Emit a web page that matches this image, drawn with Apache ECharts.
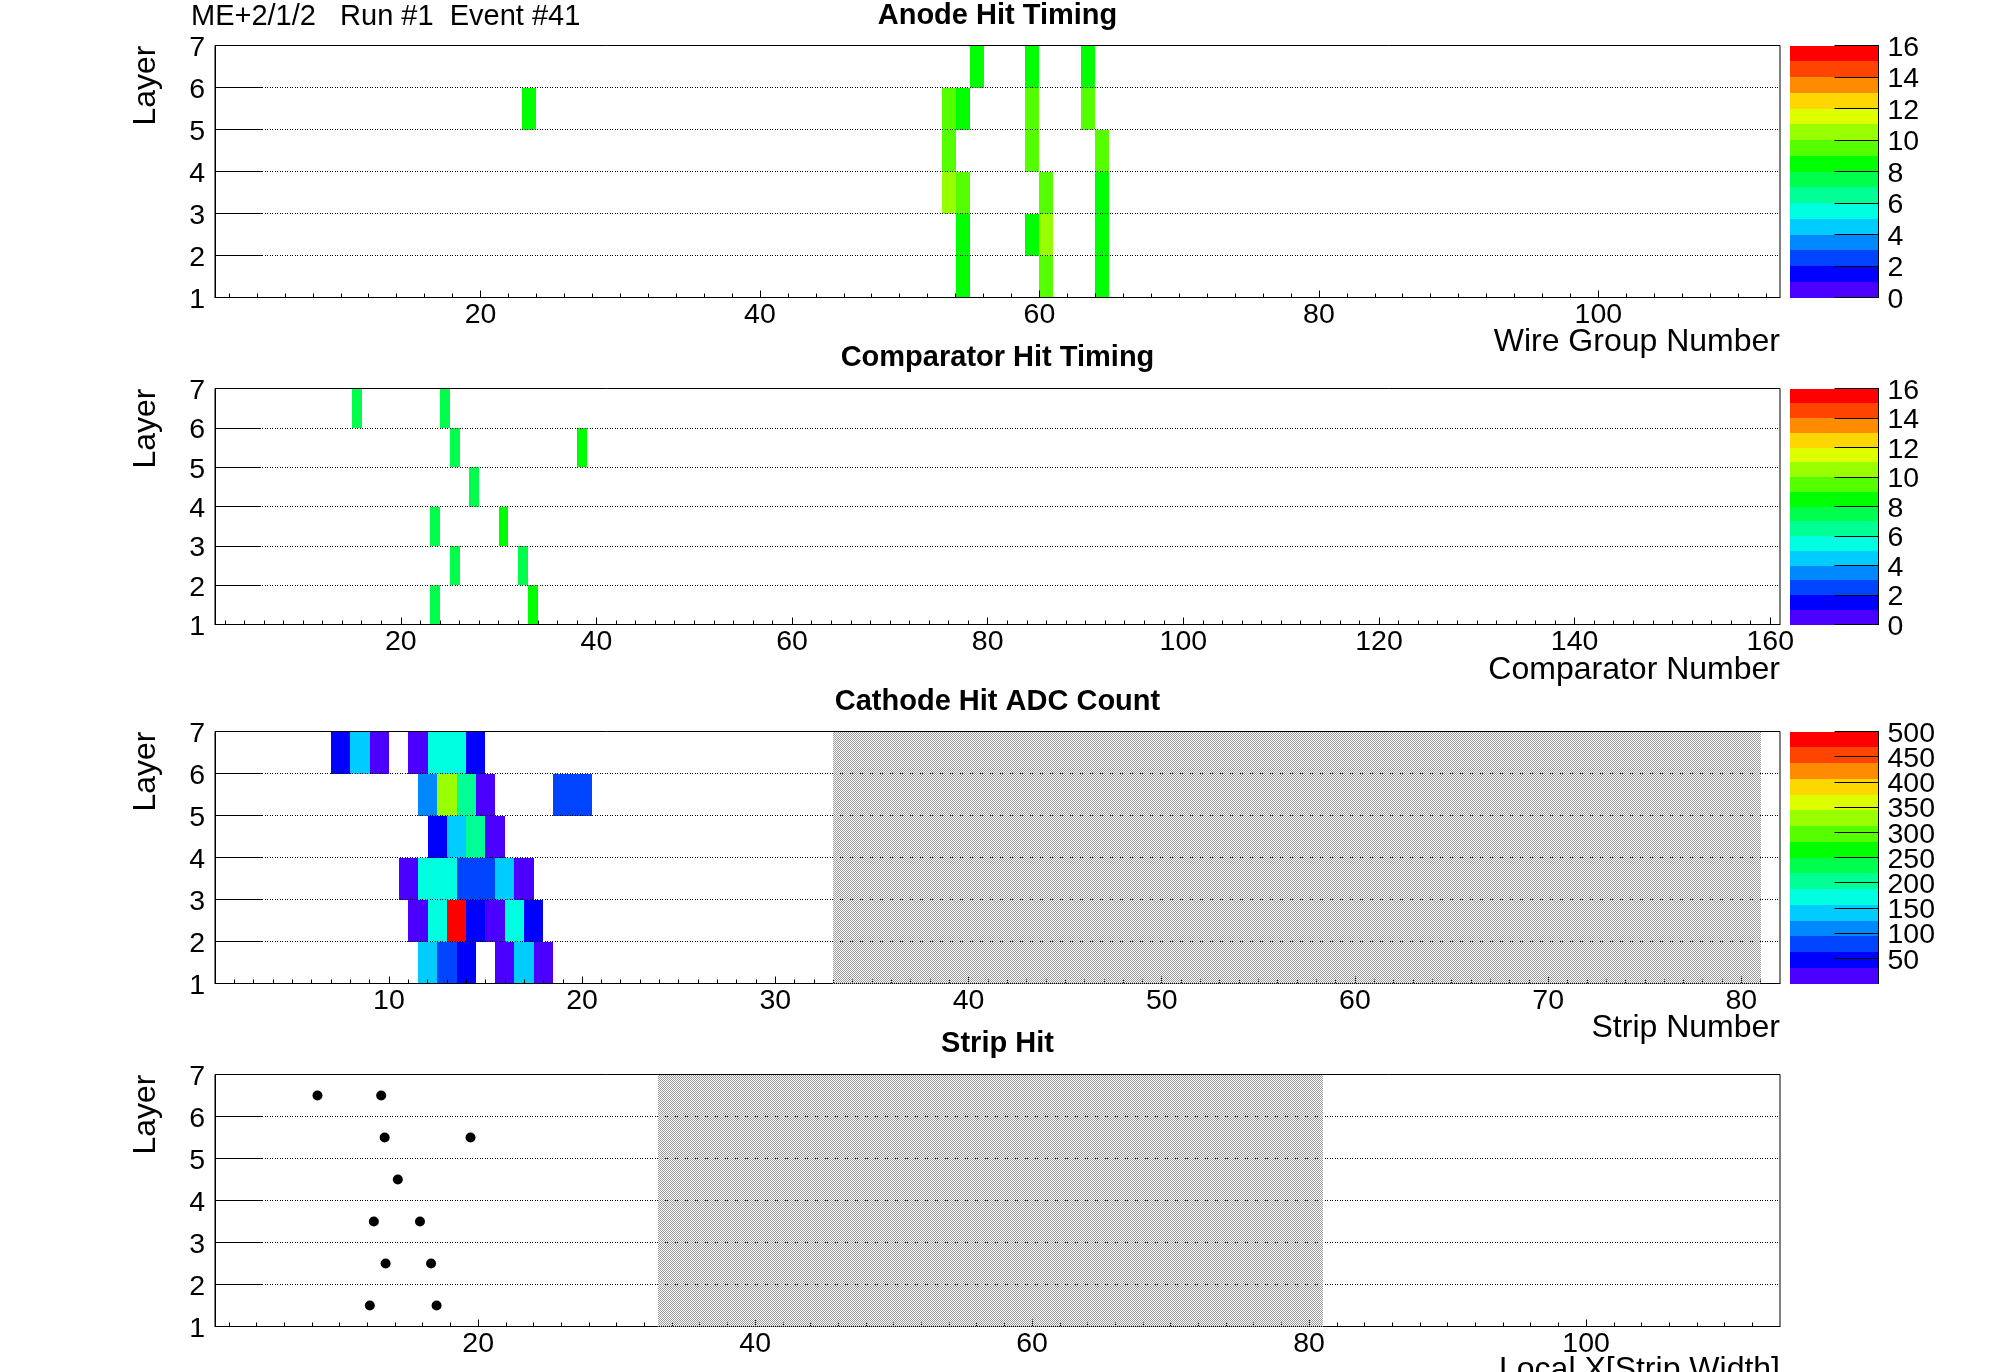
<!DOCTYPE html>
<html><head><meta charset="utf-8">
<style>html,body{margin:0;padding:0;background:#fff;overflow:hidden}#c{width:1996px;height:1372px}</style>
<script src="https://cdn.jsdelivr.net/npm/echarts@6/dist/echarts.min.js"></script>
</head><body><div id="c"></div>
<script>
// palette bands, bottom to top
const paletteColors = ['#4b00ff','#0000ff','#0044ff','#0088ff','#00ccff','#00ffe0','#00ff94','#00ff4c','#00ff00','#55ff00','#99ff00','#ddff00','#ffd700','#ff8c00','#ff4400','#ff0000'];
const layerTicks = [1,2,3,4,5,6,7];
// [xStart, xEnd, layerRow, value]
const anodeCells = [
 [55,56,6,8.5],[59,60,6,8.5],[63,64,6,8.5],
 [23,24,5,8.5],[53,54,5,9.5],[54,55,5,8.5],[59,60,5,9.5],[63,64,5,9.5],
 [53,54,4,9.5],[59,60,4,9.5],[64,65,4,9.5],
 [53,54,3,10.5],[54,55,3,9.5],[60,61,3,9.5],[64,65,3,8.5],
 [54,55,2,8.5],[59,60,2,8.5],[60,61,2,10.5],[64,65,2,8.5],
 [54,55,1,8.5],[60,61,1,9.5],[64,65,1,8.5]
];
const comparatorCells = [
 [15,16,6,7.5],[24,25,6,7.5],
 [25,26,5,7.5],[38,39,5,8.5],
 [27,28,4,7.5],
 [23,24,3,7.5],[30,31,3,8.5],
 [25,26,2,7.5],[32,33,2,7.5],
 [23,24,1,7.5],[33,34,1,8.5]
];
const cathodeCells = [
 [7,8,6,45],[8,9,6,140],[9,10,6,15],[11,12,6,15],[12,13,6,172],[13,14,6,172],[14,15,6,45],
 [11.5,12.5,5,110],[12.5,13.5,5,328],[13.5,14.5,5,203],[14.5,15.5,5,15],[18.5,19.5,5,78],[19.5,20.5,5,78],
 [12,13,4,45],[13,14,4,140],[14,15,4,203],[15,16,4,15],
 [10.5,11.5,3,15],[11.5,12.5,3,172],[12.5,13.5,3,172],[13.5,14.5,3,78],[14.5,15.5,3,78],[15.5,16.5,3,140],[16.5,17.5,3,15],
 [11,12,2,15],[12,13,2,172],[13,14,2,490],[14,15,2,45],[15,16,2,15],[16,17,2,172],[17,18,2,45],
 [11.5,12.5,1,140],[12.5,13.5,1,78],[13.5,14.5,1,45],[15.5,16.5,1,15],[16.5,17.5,1,140],[17.5,18.5,1,15]
];
const stripHits = [
 [8.4,6.5],[13.0,6.5],[13.25,5.5],[19.45,5.5],[14.2,4.5],
 [12.47,3.5],[15.8,3.5],[13.32,2.5],[16.6,2.5],[12.18,1.5],[17.0,1.5]
];
const deadCathode = [[33,81]];
const deadStrip = [[33,81]];
const timingTicks = [0,2,4,6,8,10,12,14,16];
const adcTicksA = [100,200,300,400,500];
const adcTicksB = [50,150,250,350,450];
const wireMajor = [20,40,60,80,100];
const comparatorMajor = [20,40,60,80,100,120,140,160];
const stripMajor = [10,20,30,40,50,60,70,80];
const localMajor = [20,40,60,80,100];
const wireMinor = [2,4,6,8,10,12,14,16,18,22,24,26,28,30,32,34,36,38,42,44,46,48,50,52,54,56,58,62,64,66,68,70,72,74,76,78,82,84,86,88,90,92,94,96,98,102,104,106,108,110,112];
const comparatorMinor = [2,4,6,8,10,12,14,16,18,22,24,26,28,30,32,34,36,38,42,44,46,48,50,52,54,56,58,62,64,66,68,70,72,74,76,78,82,84,86,88,90,92,94,96,98,102,104,106,108,110,112,114,116,118,122,124,126,128,130,132,134,136,138,142,144,146,148,150,152,154,156,158];
const stripMinor = [2,3,4,5,6,7,8,9,11,12,13,14,15,16,17,18,19,21,22,23,24,25,26,27,28,29,31,32,33,34,35,36,37,38,39,41,42,43,44,45,46,47,48,49,51,52,53,54,55,56,57,58,59,61,62,63,64,65,66,67,68,69,71,72,73,74,75,76,77,78,79,81];
const localMinor = [2,4,6,8,10,12,14,16,18,22,24,26,28,30,32,34,36,38,42,44,46,48,50,52,54,56,58,62,64,66,68,70,72,74,76,78,82,84,86,88,90,92,94,96,98,102,104,106,108,110,112];

const FONT = '"Liberation Sans"';
const TICK = 28.5, NAME = 32, TITLE = 29;
const hatch = document.createElement('canvas'); hatch.width = hatch.height = 2;
(function(){const g=hatch.getContext('2d');g.fillStyle='#999999';g.fillRect(0,0,1,1);g.fillRect(1,1,1,1);})();

const panels = [
 {top:45.5,h:252,xmax:113,major:wireMajor,minor:wireMinor,cells:anodeCells,range:16,tickSets:[timingTicks],tickLen:48,title:'Anode Hit Timing',name:'Wire Group Number',titleTop:1,nameTop:326},
 {top:388.5,h:236,xmax:161,major:comparatorMajor,minor:comparatorMinor,cells:comparatorCells,range:16,tickSets:[timingTicks],tickLen:45,title:'Comparator Hit Timing',name:'Comparator Number',titleTop:343,nameTop:654},
 {top:731.5,h:252,xmax:82,major:stripMajor,minor:stripMinor,cells:cathodeCells,range:500,tickSets:[adcTicksA,adcTicksB],tickLen:48,title:'Cathode Hit ADC Count',name:'Strip Number',dead:deadCathode,titleTop:687,nameTop:1012},
 {top:1074.5,h:252,xmax:114,major:localMajor,minor:localMinor,hits:stripHits,tickLen:48,title:'Strip Hit',name:'Local X[Strip Width]',dead:deadStrip,titleTop:1029,nameTop:1354}
];
const L = 215, W = 1565, PL = 1790, PW = 88.5;
const grid=[],xAxis=[],yAxis=[],series=[],title=[],graphic=[];

function rectItem(api,x0,x1,y0,y1,fill){
  const a=api.coord([x0,y1]), b=api.coord([x1,y0]);
  const ax=Math.round(a[0]), ay=Math.round(a[1]), bx=Math.round(b[0]), by=Math.round(b[1]);
  return {type:'rect',shape:{x:ax,y:ay,width:bx-ax,height:by-ay},style:{fill:fill}};
}
panels.forEach(p=>{
  const gi=grid.length;
  grid.push({left:L,top:p.top,width:W,height:p.h,show:true,borderColor:'#000',borderWidth:1,backgroundColor:'transparent'});
  const xi=xAxis.length, yi=yAxis.length;
  const base={type:'value',gridIndex:gi,min:1,max:p.xmax,position:'bottom',splitLine:{show:false},z:3};
  xAxis.push(Object.assign({},base,{
    axisLine:{show:true,onZero:false,lineStyle:{color:'#000',width:1}},
    axisTick:{show:true,inside:true,length:7,customValues:p.major,lineStyle:{color:'#000'}},
    axisLabel:{show:true,customValues:p.major,color:'#000',fontFamily:FONT,fontSize:TICK,margin:3.5}
  }));
  xAxis.push(Object.assign({},base,{
    axisLine:{show:false,onZero:false},
    axisTick:{show:true,inside:true,length:4,customValues:p.minor,lineStyle:{color:'#000'}},
    axisLabel:{show:false}
  }));
  yAxis.push({type:'value',gridIndex:gi,min:1,max:7,interval:1,z:3,
    axisLine:{show:true,onZero:false,lineStyle:{color:'#000'}},
    axisTick:{show:true,inside:true,length:p.tickLen,customValues:layerTicks,lineStyle:{color:'#000'}},
    axisLabel:{color:'#000',fontFamily:FONT,fontSize:TICK,margin:10,customValues:layerTicks,verticalAlign:'top',lineHeight:5,showMinLabel:true,showMaxLabel:true},
    splitLine:{show:true,lineStyle:{color:'#000',width:1,type:[1,1,1,2]}}
  });
  if(p.dead){
    series.push({type:'custom',xAxisIndex:xi,yAxisIndex:yi,z:4,silent:true,data:p.dead,encode:{x:[0,1]},
      renderItem:(c,api)=>rectItem(api,api.value(0),api.value(1),1,7,{image:hatch,repeat:'repeat'})});
  }
  if(p.cells){
    series.push({type:'custom',xAxisIndex:xi,yAxisIndex:yi,z:2,silent:true,data:p.cells,encode:{x:[0,1],y:2},
      renderItem:(c,api)=>{
        const band=Math.min(15,Math.floor(api.value(3)/p.range*16));
        return rectItem(api,api.value(0),api.value(1),api.value(2),api.value(2)+1,paletteColors[band]);
      }});
  }
  if(p.hits){
    series.push({type:'scatter',xAxisIndex:xi,yAxisIndex:yi,z:5,silent:true,data:p.hits,symbol:'circle',symbolSize:10,itemStyle:{color:'#000',opacity:1}});
  }
  if(p.tickSets){
    const pg=grid.length;
    grid.push({left:PL,top:p.top,width:PW,height:p.h});
    const pxi=xAxis.length, pyi=yAxis.length;
    xAxis.push({type:'value',gridIndex:pg,min:0,max:1,show:false});
    p.tickSets.forEach(ticks=>{
      yAxis.push({type:'value',gridIndex:pg,min:0,max:p.range,position:'right',z:3,
        axisLine:{show:true,onZero:false,lineStyle:{color:'#000'}},
        axisTick:{show:true,inside:true,length:44,customValues:ticks,lineStyle:{color:'#000'}},
        axisLabel:{color:'#000',fontFamily:FONT,fontSize:TICK,margin:9,customValues:ticks,verticalAlign:'top',lineHeight:5,showMinLabel:true,showMaxLabel:true,hideOverlap:false},
        splitLine:{show:false}});
    });
    series.push({type:'custom',xAxisIndex:pxi,yAxisIndex:pyi,z:2,silent:true,
      data:paletteColors.map((c,i)=>[i*p.range/16,(i+1)*p.range/16]),encode:{y:[0,1]},
      renderItem:(c,api)=>rectItem(api,0,1,api.value(0),api.value(1),paletteColors[c.dataIndex])});
  }
  title.push({text:p.title,left:L+W/2,top:p.titleTop,textAlign:'center',padding:0,textStyle:{fontFamily:FONT,fontSize:TITLE,fontWeight:'bold',color:'#000'}});
  title.push({text:p.name,left:L+W,top:p.nameTop,textAlign:'right',padding:0,textStyle:{fontFamily:FONT,fontSize:NAME,fontWeight:'normal',color:'#000'}});
  graphic.push({type:'text',rotation:Math.PI/2,x:146.5,y:p.top,style:{text:'Layer',font:'normal '+NAME+'px '+FONT,fill:'#000',textAlign:'right',textVerticalAlign:'middle'}});
});
title.push({text:'ME+2/1/2   Run #1  Event #41',left:191,top:2,padding:0,textStyle:{fontFamily:FONT,fontSize:29,fontWeight:'normal',color:'#000'}});

const chart=echarts.init(document.getElementById('c'),null,{renderer:'canvas',width:1996,height:1372});
chart.setOption({animation:false,backgroundColor:'#fff',grid,xAxis,yAxis,series,title,graphic});
</script></body></html>
